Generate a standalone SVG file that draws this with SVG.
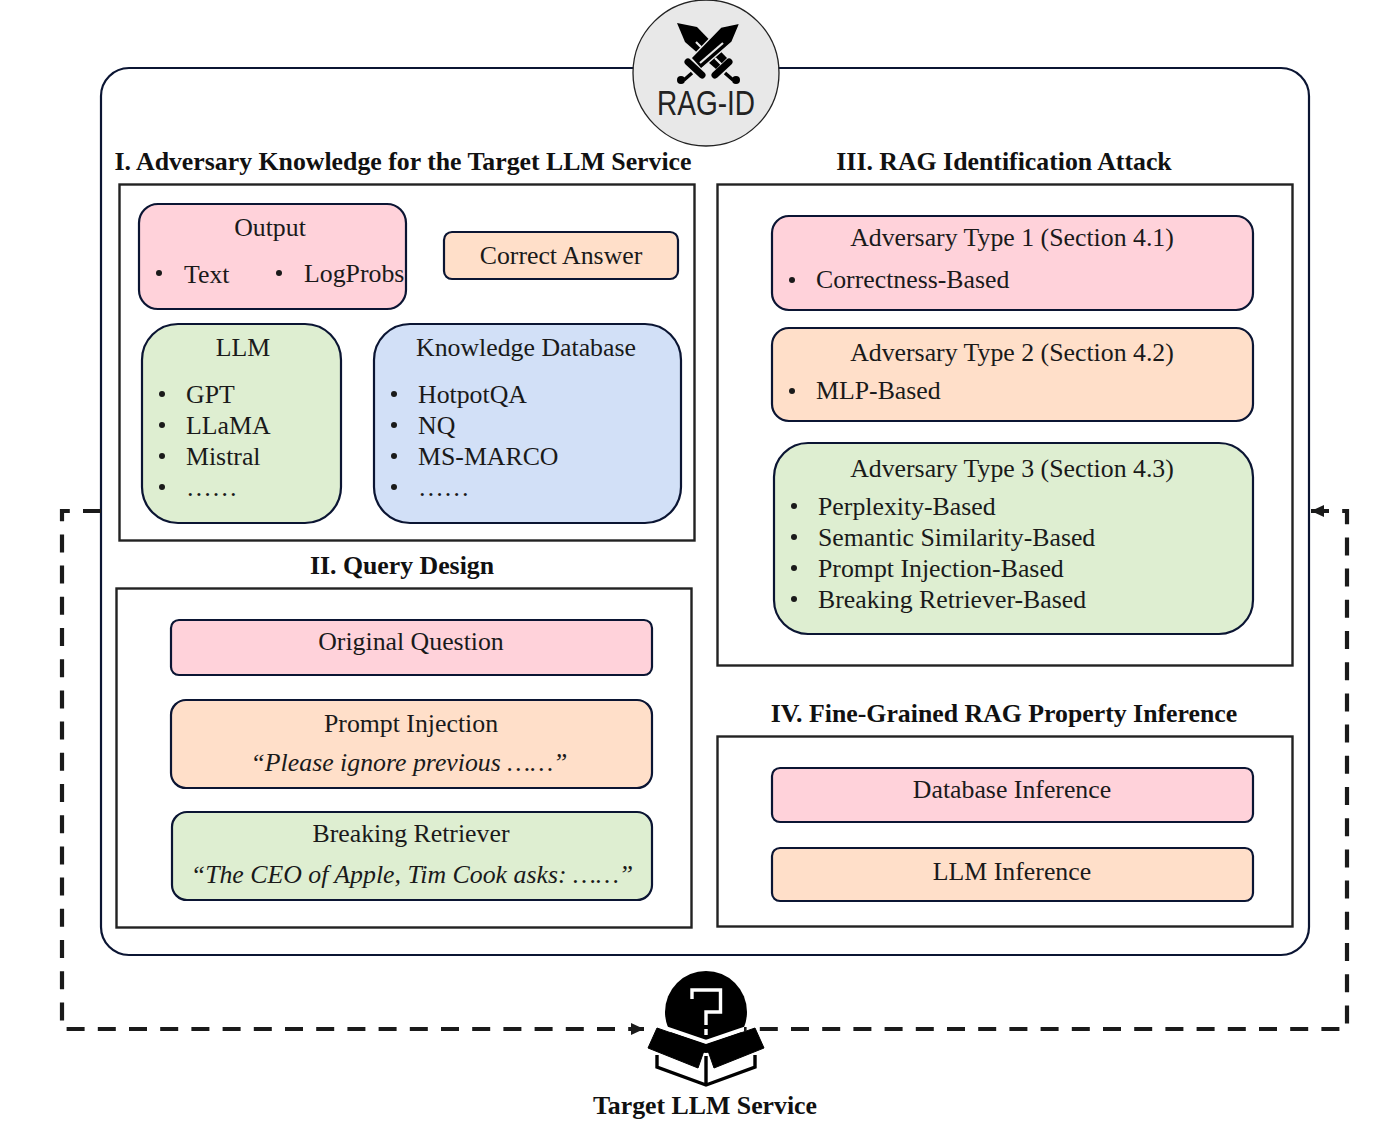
<svg xmlns="http://www.w3.org/2000/svg" width="1386" height="1128" viewBox="0 0 1386 1128">
<style>
text{font-family:"Liberation Serif","Times New Roman",serif;font-size:25.8px;fill:#1a1a1a}
.c{text-anchor:middle}
.h{font-weight:bold;fill:#111}
.i{font-style:italic}
.sec{fill:#fff;stroke:#222;stroke-width:2.4}
.b{stroke:#0b1533;stroke-width:2.2}
.pink{fill:#ffd2da}
.peach{fill:#ffdfc9}
.green{fill:#deeed1}
.blue{fill:#d2e0f7}
.conn{fill:none;stroke:#1a1a1a;stroke-width:4.2;stroke-dasharray:18 13.2}
.dot{fill:#1a1a1a}
.ful{fill:none;stroke:#e8e8e8;stroke-width:2.2}
.bl{stroke:#000;fill:none}
</style>
<defs>
<marker id="arrow" markerUnits="userSpaceOnUse" markerWidth="14" markerHeight="14" refX="13" refY="7" orient="auto-start-reverse"><path d="M0 1L13 7L0 13Z" fill="#1a1a1a"/></marker>
</defs>

<g id="frame"><rect x="101" y="68" width="1208" height="887" rx="28" fill="#fff" stroke="#0b1533" stroke-width="2.2"/></g>

<g id="rag-id">
<circle cx="706" cy="73" r="73" fill="#e8e8e8" stroke="#222" stroke-width="1.3"/>
<path d="M677 23L697 27L727 58L716 69L685 42Z" fill="#000"/>
<path class="ful" d="M696 42L703 49M715 58L722 65"/>
<path d="M740 23L721 27L691 58L701 69L732 42Z" fill="#000" stroke="#e8e8e8" stroke-width="1.4"/>
<path class="ful" d="M723 43L700 63"/>
<path class="bl" d="M688 62L702 75" stroke-width="7" stroke-linecap="round"/>
<path class="bl" d="M729 62L715 75" stroke-width="7" stroke-linecap="round"/>
<path class="bl" d="M692 73L684 80M725 73L733 80" stroke-width="3.500"/>
<circle cx="681" cy="80" r="4"/><circle cx="736" cy="80" r="4"/>
<text x="706" y="115" class="c" style="font-family:'Liberation Sans',Arial,sans-serif;font-size:35px;fill:#222" textLength="98" lengthAdjust="spacingAndGlyphs">RAG-ID</text>
</g>

<g id="section-1">
<text x="403" y="170" class="c h">I. Adversary Knowledge for the Target LLM Service</text>
<rect x="119.500" y="184.500" width="575" height="356" class="sec"/>
</g>
<g id="output">
<rect x="139" y="204" width="267" height="105" rx="19" class="b pink"/>
<text x="270" y="236" class="c">Output</text>
<circle cx="159" cy="273" r="3" class="dot"/><text x="184" y="283">Text</text>
<circle cx="279" cy="273" r="3" class="dot"/><text x="304" y="282">LogProbs</text>
</g>
<g id="correct-answer">
<rect x="444" y="232" width="234" height="47" rx="8" class="b peach"/>
<text x="561" y="264" class="c">Correct Answer</text>
</g>
<g id="llm">
<rect x="142" y="324" width="199" height="199" rx="36" class="b green"/>
<text x="243" y="356" class="c">LLM</text>
<circle cx="162" cy="394" r="3" class="dot"/><text x="186" y="403">GPT</text>
<circle cx="162" cy="425" r="3" class="dot"/><text x="186" y="434">LLaMA</text>
<circle cx="162" cy="456" r="3" class="dot"/><text x="186" y="465">Mistral</text>
<circle cx="162" cy="487" r="3" class="dot"/><text x="186" y="496">……</text>
</g>
<g id="knowledge-database">
<rect x="374" y="324" width="307" height="199" rx="36" class="b blue"/>
<text x="526" y="356" class="c">Knowledge Database</text>
<circle cx="394" cy="394" r="3" class="dot"/><text x="418" y="403">HotpotQA</text>
<circle cx="394" cy="425" r="3" class="dot"/><text x="418" y="434">NQ</text>
<circle cx="394" cy="456" r="3" class="dot"/><text x="418" y="465">MS-MARCO</text>
<circle cx="394" cy="487" r="3" class="dot"/><text x="418" y="496">……</text>
</g>

<g id="section-2">
<text x="402" y="574" class="c h">II. Query Design</text>
<rect x="116.500" y="588.500" width="575" height="339" class="sec"/>
</g>
<g id="original-question">
<rect x="171" y="620" width="481" height="55" rx="8" class="b pink"/>
<text x="411" y="650" class="c">Original Question</text>
</g>
<g id="prompt-injection">
<rect x="171" y="700" width="481" height="88" rx="15" class="b peach"/>
<text x="411" y="732" class="c">Prompt Injection</text>
<text x="409" y="771" class="c i">“Please ignore previous ……”</text>
</g>
<g id="breaking-retriever">
<rect x="172" y="812" width="480" height="88" rx="15" class="b green"/>
<text x="411" y="842" class="c">Breaking Retriever</text>
<text x="412" y="883" class="c i">“The CEO of Apple, Tim Cook asks: ……”</text>
</g>

<g id="section-3">
<text x="1004" y="170" class="c h">III. RAG Identification Attack</text>
<rect x="717.500" y="184.500" width="575" height="481" class="sec"/>
</g>
<g id="adversary-1">
<rect x="772" y="216" width="481" height="94" rx="17" class="b pink"/>
<text x="1012" y="246" class="c">Adversary Type 1 (Section 4.1)</text>
<circle cx="792" cy="280" r="3" class="dot"/><text x="816" y="288">Correctness-Based</text>
</g>
<g id="adversary-2">
<rect x="772" y="328" width="481" height="93" rx="17" class="b peach"/>
<text x="1012" y="361" class="c">Adversary Type 2 (Section 4.2)</text>
<circle cx="792" cy="391" r="3" class="dot"/><text x="816" y="399">MLP-Based</text>
</g>
<g id="adversary-3">
<rect x="774" y="443" width="479" height="191" rx="34" class="b green"/>
<text x="1012" y="477" class="c">Adversary Type 3 (Section 4.3)</text>
<circle cx="794" cy="506" r="3" class="dot"/><text x="818" y="515">Perplexity-Based</text>
<circle cx="794" cy="537" r="3" class="dot"/><text x="818" y="546">Semantic Similarity-Based</text>
<circle cx="794" cy="568" r="3" class="dot"/><text x="818" y="577">Prompt Injection-Based</text>
<circle cx="794" cy="599" r="3" class="dot"/><text x="818" y="608">Breaking Retriever-Based</text>
</g>

<g id="section-4">
<text x="1004" y="722" class="c h">IV. Fine-Grained RAG Property Inference</text>
<rect x="717.500" y="736.500" width="575" height="190" class="sec"/>
</g>
<g id="database-inference">
<rect x="772" y="768" width="481" height="54" rx="8" class="b pink"/>
<text x="1012" y="798" class="c">Database Inference</text>
</g>
<g id="llm-inference">
<rect x="772" y="848" width="481" height="53" rx="8" class="b peach"/>
<text x="1012" y="880" class="c">LLM Inference</text>
</g>

<g id="target-llm-service">
<circle cx="706" cy="1012" r="41" fill="#000"/>
<path d="M692 999V990H720.500V1012H706V1025" fill="none" stroke="#fff" stroke-width="3.400"/>
<rect x="704.300" y="1029" width="3.400" height="6" fill="#fff"/>
<path d="M665 1028L706 1042L747 1028" fill="none" stroke="#fff" stroke-width="4"/>
<path d="M657 1028L706 1045L698 1068L648 1048Z" fill="#000" stroke="#000" stroke-linejoin="round"/>
<path d="M755 1028L706 1045L714 1068L764 1048Z" fill="#000" stroke="#000" stroke-linejoin="round"/>
<path d="M657 1055V1067L706 1085L755 1067V1055M706 1056V1085" fill="none" stroke="#000" stroke-width="3.400"/>
<text x="705" y="1114" class="c h">Target LLM Service</text>
</g>

<g id="connectors">
<path class="conn" d="M101 511H62V1029H644" marker-end="url(#arrow)"/>
<path class="conn" d="M1311 511H1347V1029H744" marker-start="url(#arrow)"/>
</g>
</svg>
